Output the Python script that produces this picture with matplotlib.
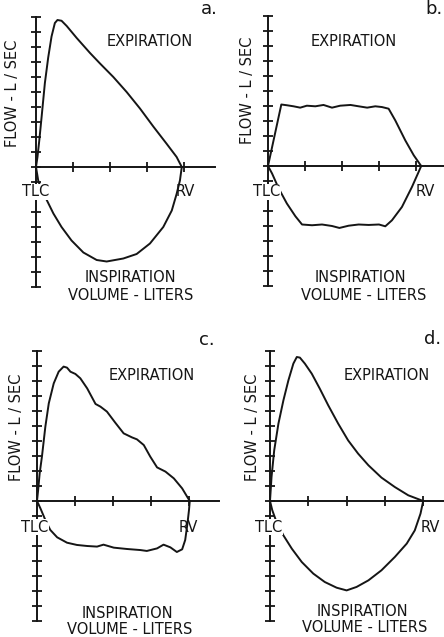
import matplotlib
matplotlib.use("Agg")
import matplotlib.pyplot as plt

W, H = 444, 637

# ---- data (volume in liters from TLC, flow in L/sec) ----
a_exp_vol = [0, 0.04, 0.09, 0.15, 0.24, 0.33, 0.42, 0.51, 0.58, 0.69, 0.83, 1.1, 1.46, 1.73,
             2.09, 2.45, 2.81, 3.17, 3.53, 3.8, 3.94]
a_exp_flow = [0, 0.67, 1.8, 3.3, 5.6, 7.3, 8.7, 9.6, 9.8, 9.75, 9.4, 8.6, 7.6, 6.9,
              6.0, 5.0, 3.9, 2.7, 1.55, 0.67, 0]
a_insp_vol = [0, 0.06, 0.15, 0.29, 0.47, 0.69, 0.96, 1.28, 1.64, 1.91, 2.36, 2.72, 3.08,
              3.44, 3.67, 3.8, 3.89, 3.94]
a_insp_flow = [0, -0.9, -1.55, -2.2, -3.1, -4.0, -4.9, -5.7, -6.2, -6.3, -6.1, -5.8, -5.1,
               -4.0, -2.9, -1.8, -0.9, 0]

b_exp_vol = [0, 0.36, 0.51, 0.69, 0.87, 1.05, 1.28, 1.5, 1.73, 1.95, 2.23, 2.45, 2.68,
             2.9, 3.08, 3.26, 3.44, 3.71, 3.94, 4.14]
b_exp_flow = [0, 4.1, 4.05, 3.98, 3.89, 4.02, 3.98, 4.07, 3.89, 4.02, 4.07, 3.98, 3.89,
              3.98, 3.93, 3.82, 3.04, 1.71, 0.71, 0]
b_insp_vol = [0, 0.11, 0.29, 0.51, 0.74, 0.92, 1.19, 1.46, 1.73, 1.93, 2.18, 2.45, 2.72,
              3.0, 3.17, 3.35, 3.62, 3.89, 4.07, 4.14]
b_insp_flow = [0, -0.5, -1.5, -2.5, -3.35, -3.9, -3.95, -3.9, -4.0, -4.13, -3.98, -3.9,
               -3.93, -3.9, -4.02, -3.62, -2.73, -1.4, -0.4, 0]

c_exp_vol = [0, 0.03, 0.07, 0.13, 0.22, 0.31, 0.44, 0.57, 0.70, 0.79, 0.88, 1.01, 1.14,
             1.32, 1.54, 1.67, 1.84, 2.06, 2.28, 2.5, 2.63, 2.81, 2.98, 3.16, 3.38, 3.6,
             3.82, 3.95, 4.02]
c_exp_flow = [0, 0.73, 1.84, 2.96, 4.96, 6.51, 7.84, 8.62, 8.96, 8.89, 8.62, 8.47, 8.18,
              7.51, 6.47, 6.29, 5.96, 5.22, 4.51, 4.24, 4.11, 3.73, 2.96, 2.24, 1.96, 1.51,
              0.84, 0.29, 0]
c_insp_vol = [0, 0.09, 0.22, 0.35, 0.53, 0.79, 1.05, 1.32, 1.58, 1.75, 2.02, 2.37, 2.72,
              2.89, 3.16, 3.33, 3.51, 3.68, 3.82, 3.9, 3.96, 4.0, 4.02]
c_insp_flow = [0, -0.49, -1.27, -1.93, -2.42, -2.78, -2.93, -3.0, -3.04, -2.91, -3.11,
               -3.2, -3.27, -3.33, -3.16, -2.91, -3.09, -3.4, -3.22, -2.6, -1.49, -0.6, 0]

d_exp_vol = [0, 0.04, 0.11, 0.22, 0.35, 0.48, 0.61, 0.7, 0.78, 0.91, 1.09, 1.3, 1.52,
             1.78, 2.04, 2.3, 2.57, 2.91, 3.26, 3.61, 4.0]
d_exp_flow = [0, 1.6, 3.38, 5.16, 6.71, 8.04, 9.16, 9.6, 9.56, 9.16, 8.49, 7.49, 6.38,
              5.16, 4.04, 3.16, 2.38, 1.56, 0.93, 0.38, 0]
d_insp_vol = [0, 0.06, 0.17, 0.35, 0.57, 0.83, 1.13, 1.43, 1.74, 2.0, 2.26, 2.57, 2.91,
              3.26, 3.57, 3.78, 3.93, 4.0]
d_insp_flow = [0, -0.62, -1.4, -2.29, -3.18, -4.07, -4.84, -5.4, -5.78, -5.96, -5.73,
               -5.29, -4.62, -3.73, -2.84, -1.96, -0.84, 0]

vol_ticks = [1, 2, 3, 4]
flow_ticks = list(range(-8, 11))
panel_letters = ["a.", "b.", "c.", "d."]

INK = "#151515"
FONT = "DejaVu Sans"


def fx(x):
    return x / W


def fy(y):
    return 1 - y / H


def make_panel(fig, ox, oy, sx, sy, x_end, exp_v, exp_f, insp_v, insp_f):
    # axes rectangle chosen so that data units map onto the picture pixels
    x0, x1, y0, y1 = -1.0, 5.5, -9.0, 11.0
    left = ox + x0 * sx
    right = ox + x1 * sx
    top = oy - y1 * sy
    bottom = oy - y0 * sy
    ax = fig.add_axes([fx(left), fy(bottom), (right - left) / W, (bottom - top) / H])
    ax.set_xlim(x0, x1)
    ax.set_ylim(y0, y1)
    ax.patch.set_visible(False)
    for s in ["top", "right"]:
        ax.spines[s].set_visible(False)
    ax.spines["left"].set_position(("data", 0))
    ax.spines["bottom"].set_position(("data", 0))
    ax.spines["left"].set_bounds(-8, 10)
    ax.spines["bottom"].set_bounds(0, x_end)
    for s in ["left", "bottom"]:
        ax.spines[s].set_linewidth(1.4)
        ax.spines[s].set_color(INK)
    ax.set_xticks(vol_ticks)
    ax.set_yticks(flow_ticks)
    ax.tick_params(direction="inout", length=7, width=1.3, color=INK,
                   labelbottom=False, labelleft=False)
    ax.plot(exp_v, exp_f, color=INK, lw=1.4, clip_on=False)
    ax.plot(insp_v, insp_f, color=INK, lw=1.4, clip_on=False)
    return ax


def panel_text(fig, letter, pos):
    let, expi, flow, tlc, rv, insp, vol = pos
    fig.text(fx(let[0]), fy(let[1]), letter, fontsize=13, ha="center", va="center",
             color=INK, family=FONT)
    fig.text(fx(expi[0]), fy(expi[1]), "EXPIRATION", fontsize=10.5, ha="center",
             va="center", color=INK, family=FONT)
    fig.text(fx(flow[0]), fy(flow[1]), "FLOW - L / SEC", fontsize=10.5, ha="center",
             va="center", rotation=90, color=INK, family=FONT)
    fig.text(fx(tlc[0]), fy(tlc[1]), "TLC", fontsize=10.5, ha="center", va="center",
             color=INK, family=FONT, zorder=5,
             bbox=dict(facecolor="white", edgecolor="none", pad=0.5))
    fig.text(fx(rv[0]), fy(rv[1]), "RV", fontsize=10.5, ha="center", va="center",
             color=INK, family=FONT)
    fig.text(fx(insp[0]), fy(insp[1]), "INSPIRATION", fontsize=10.5, ha="center",
             va="center", color=INK, family=FONT)
    fig.text(fx(vol[0]), fy(vol[1]), "VOLUME - LITERS", fontsize=10.5, ha="center",
             va="center", color=INK, family=FONT)


fig = plt.figure(figsize=(W / 100, H / 100), dpi=100)
fig.patch.set_facecolor("white")

make_panel(fig, 36, 167, 37, 15, 4.85, a_exp_vol, a_exp_flow, a_insp_vol, a_insp_flow)
make_panel(fig, 268, 166, 37, 15, 5.2, b_exp_vol, b_exp_flow, b_insp_vol, b_insp_flow)
make_panel(fig, 37, 501, 38, 15, 4.8, c_exp_vol, c_exp_flow, c_insp_vol, c_insp_flow)
make_panel(fig, 270, 501, 38.3, 15, 5.2, d_exp_vol, d_exp_flow, d_insp_vol, d_insp_flow)

panel_text(fig, panel_letters[0], [(209, 9), (150, 42), (13, 93), (36, 192), (185, 192),
                                   (130, 278), (131, 295)])
panel_text(fig, panel_letters[1], [(434, 9), (354, 42), (247, 90), (267, 192), (425, 192),
                                   (360, 278), (364, 295)])
panel_text(fig, panel_letters[2], [(207, 340), (152, 375), (17, 427), (35, 527), (188, 527),
                                   (127, 613), (130, 629)])
panel_text(fig, panel_letters[3], [(433, 339), (387, 375), (252, 427), (269, 527), (430, 527),
                                   (362, 612), (365, 628)])

fig.savefig("out.png", dpi=100)
